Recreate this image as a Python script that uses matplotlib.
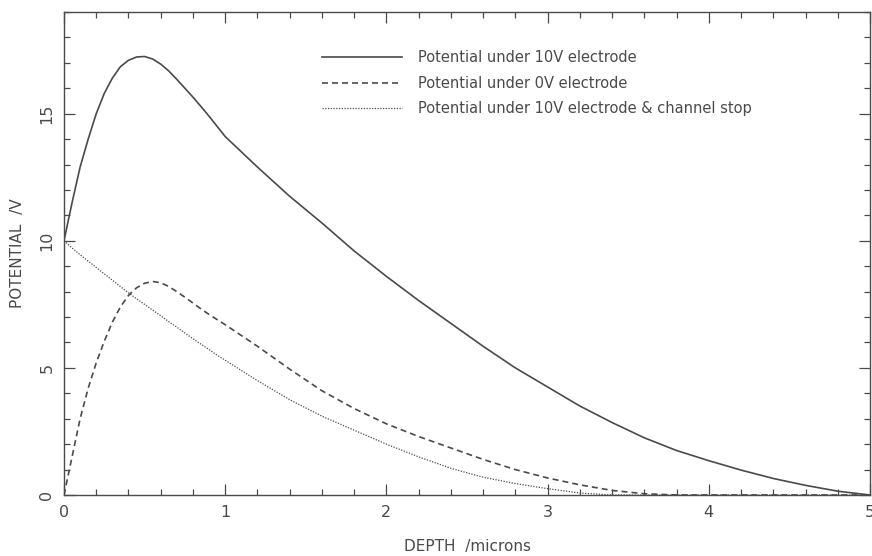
import numpy as np
import matplotlib.pyplot as plt
from matplotlib.ticker import MultipleLocator

# depth grid (microns)
depth = [0.0, 0.05, 0.1, 0.15, 0.2, 0.25, 0.3, 0.35, 0.4, 0.45, 0.5, 0.55, 0.6,
         0.65, 0.7, 0.75, 0.8, 0.85, 0.9, 0.95, 1.0, 1.2, 1.4, 1.6, 1.8, 2.0,
         2.2, 2.4, 2.6, 2.8, 3.0, 3.2, 3.4, 3.6, 3.8, 4.0, 4.2, 4.4, 4.6, 4.8,
         5.0]

# potential under 10V electrode
pot_10v = [10.0, 11.5, 12.9, 14.0, 15.0, 15.8, 16.4, 16.85, 17.1, 17.23, 17.25,
           17.15, 16.95, 16.68, 16.35, 16.0, 15.65, 15.28, 14.9, 14.5, 14.1,
           12.9, 11.75, 10.7, 9.6, 8.6, 7.65, 6.75, 5.85, 5.0, 4.25, 3.5, 2.85,
           2.25, 1.75, 1.35, 0.98, 0.65, 0.38, 0.15, 0.0]

# potential under 0V electrode
pot_0v = [0.0, 1.5, 3.0, 4.2, 5.2, 6.05, 6.8, 7.4, 7.85, 8.15, 8.33, 8.4, 8.35,
          8.2, 8.0, 7.78, 7.55, 7.32, 7.1, 6.9, 6.7, 5.85, 4.95, 4.1, 3.4, 2.8,
          2.3, 1.85, 1.4, 1.0, 0.67, 0.4, 0.18, 0.05, 0.0, 0.0, 0.0, 0.0, 0.0,
          0.0, 0.0]

# potential under 10V electrode with channel stop
pot_stop = [10.0, 9.72, 9.45, 9.2, 8.95, 8.7, 8.45, 8.2, 7.95, 7.72, 7.5, 7.27,
            7.05, 6.82, 6.6, 6.37, 6.15, 5.93, 5.72, 5.5, 5.3, 4.5, 3.75, 3.1,
            2.55, 2.0, 1.5, 1.05, 0.7, 0.45, 0.25, 0.08, 0.0, 0.0, 0.0, 0.0,
            0.0, 0.0, 0.0, 0.0, 0.0]

labels = ["Potential under 10V electrode",
          "Potential under 0V electrode",
          "Potential under 10V electrode & channel stop"]

ink = "#4a4a4a"
plt.rcParams["font.family"] = "DejaVu Sans"

fig = plt.figure(figsize=(8.72, 5.56), dpi=100)
ax = fig.add_axes([64 / 872, 1 - 495 / 556, 806 / 872, 483 / 556])

ax.plot(depth, pot_10v, color=ink, lw=1.2, ls="-", label=labels[0])
ax.plot(depth, pot_0v, color=ink, lw=1.2, ls=(0, (3.6, 2.4)), label=labels[1])
ax.plot(depth, pot_stop, color=ink, lw=0.9, ls=(0, (1, 1.2)), label=labels[2])

ax.set_xlim(0, 5)
ax.set_ylim(0, 19)
ax.xaxis.set_major_locator(MultipleLocator(1))
ax.xaxis.set_minor_locator(MultipleLocator(0.2))
ax.yaxis.set_major_locator(MultipleLocator(5))
ax.yaxis.set_minor_locator(MultipleLocator(1))

ax.tick_params(which="both", direction="in", top=True, right=True,
               color=ink, width=0.9, labelcolor=ink, labelsize=11.5)
ax.tick_params(which="major", length=8, pad=7)
ax.tick_params(which="minor", length=4)
for lab in ax.get_yticklabels():
    lab.set_rotation(90)
    lab.set_va("center")
for sp in ax.spines.values():
    sp.set_color(ink)
    sp.set_linewidth(1.0)

ax.set_xlabel("DEPTH  /microns", color=ink, fontsize=11, labelpad=14)
ax.set_ylabel("POTENTIAL  /V", color=ink, fontsize=11, labelpad=10)

leg = ax.legend(loc="upper left", bbox_to_anchor=(0.32, 0.921), frameon=False,
                borderpad=0, borderaxespad=0,
                handlelength=5.5, handletextpad=1.1, labelspacing=0.72,
                fontsize=10.5)
for t in leg.get_texts():
    t.set_color(ink)

fig.savefig("out.png", dpi=100)
